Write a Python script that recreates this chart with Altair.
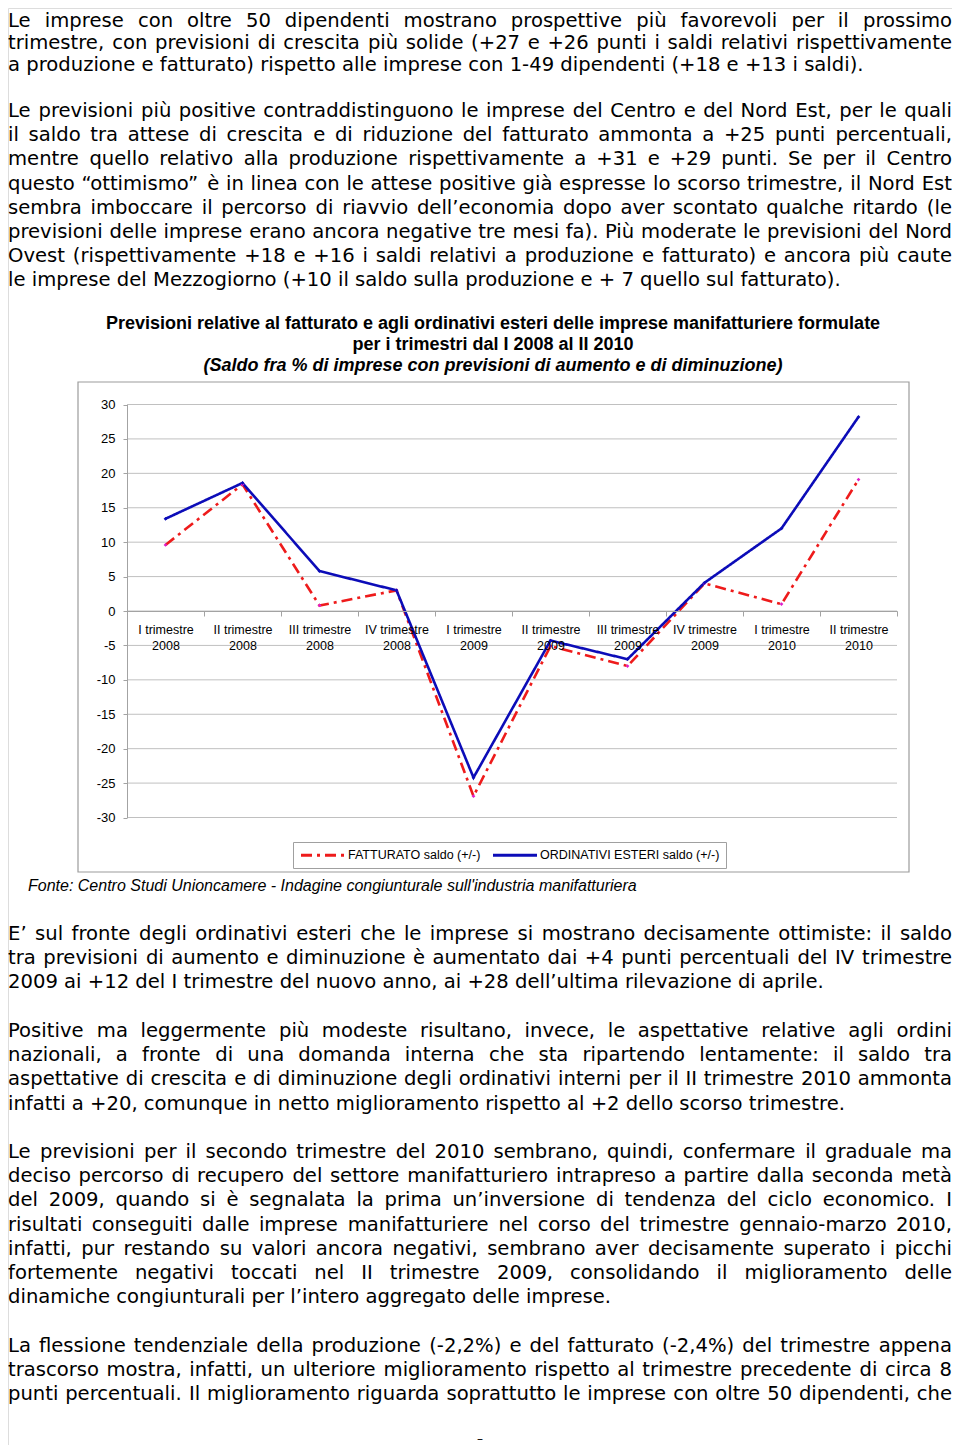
import altair as alt
import pandas as pd

# ---------------- chart data ----------------
periods = ["I trimestre 2008", "II trimestre 2008", "III trimestre 2008", "IV trimestre 2008",
           "I trimestre 2009", "II trimestre 2009", "III trimestre 2009", "IV trimestre 2009",
           "I trimestre 2010", "II trimestre 2010"]
fatturato = [9.6, 18.4, 0.8, 3.0, -26.9, -5.1, -8.0, 4.0, 1.0, 19.1]
ordinativi = [13.4, 18.6, 5.8, 3.0, -24.2, -4.3, -7.0, 4.1, 12.0, 28.2]
series = ["FATTURATO saldo (+/-)", "ORDINATIVI ESTERI saldo (+/-)"]
series_colors = ["#ee1b1b", "#0c0cb8"]
marker_colors = ["#e01ec8", "#0c0cb8"]
series_dash = [[11, 5, 3, 5], [1, 0]]
y_ticks = [-30, -25, -20, -15, -10, -5, 0, 5, 10, 15, 20, 25, 30]

title_lines = [
    "Previsioni relative al fatturato e agli ordinativi esteri delle imprese manifatturiere formulate",
    "per i trimestri dal I 2008 al II 2010",
]
subtitle_line = "(Saldo fra % di imprese con previsioni di aumento e di diminuzione)"
source_note = "Fonte: Centro Studi Unioncamere - Indagine congiunturale sull'industria manifatturiera"
page_mark = "–"

paragraphs = [
    ["Le imprese con oltre 50 dipendenti mostrano prospettive più favorevoli per il prossimo",
     "trimestre, con previsioni di crescita più solide (+27 e +26 punti i saldi relativi rispettivamente",
     "a produzione e fatturato) rispetto alle imprese con 1-49 dipendenti (+18 e +13 i saldi)."],
    ["Le previsioni più positive contraddistinguono le imprese del Centro e del Nord Est, per le quali",
     "il saldo tra attese di crescita e di riduzione del fatturato ammonta a +25 punti percentuali,",
     "mentre quello relativo alla produzione rispettivamente a +31 e +29 punti. Se per il Centro",
     "questo “ottimismo” è in linea con le attese positive già espresse lo scorso trimestre, il Nord Est",
     "sembra imboccare il percorso di riavvio dell’economia dopo aver scontato qualche ritardo (le",
     "previsioni delle imprese erano ancora negative tre mesi fa). Più moderate le previsioni del Nord",
     "Ovest (rispettivamente +18 e +16 i saldi relativi a produzione e fatturato) e ancora più caute",
     "le imprese del Mezzogiorno (+10 il saldo sulla produzione e + 7 quello sul fatturato)."],
    ["E’ sul fronte degli ordinativi esteri che le imprese si mostrano decisamente ottimiste: il saldo",
     "tra previsioni di aumento e diminuzione è aumentato dai +4 punti percentuali del IV trimestre",
     "2009 ai +12 del I trimestre del nuovo anno, ai +28 dell’ultima rilevazione di aprile."],
    ["Positive ma leggermente più modeste risultano, invece, le aspettative relative agli ordini",
     "nazionali, a fronte di una domanda interna che sta ripartendo lentamente: il saldo tra",
     "aspettative di crescita e di diminuzione degli ordinativi interni per il II trimestre 2010 ammonta",
     "infatti a +20, comunque in netto miglioramento rispetto al +2 dello scorso trimestre."],
    ["Le previsioni per il secondo trimestre del 2010 sembrano, quindi, confermare il graduale ma",
     "deciso percorso di recupero del settore manifatturiero intrapreso a partire dalla seconda metà",
     "del 2009, quando si è segnalata la prima un’inversione di tendenza del ciclo economico. I",
     "risultati conseguiti dalle imprese manifatturiere nel corso del trimestre gennaio-marzo 2010,",
     "infatti, pur restando su valori ancora negativi, sembrano aver decisamente superato i picchi",
     "fortemente negativi toccati nel II trimestre 2009, consolidando il miglioramento delle",
     "dinamiche congiunturali per l’intero aggregato delle imprese."],
    ["La flessione tendenziale della produzione (-2,2%) e del fatturato (-2,4%) del trimestre appena",
     "trascorso mostra, infatti, un ulteriore miglioramento rispetto al trimestre precedente di circa 8",
     "punti percentuali. Il miglioramento riguarda soprattutto le imprese con oltre 50 dipendenti, che"],
]
justify_last = [False, False, False, False, False, True]

# ---------------- layout (page pixels -> chart pixels) ----------------
W_CH, H_CH = 944, 1437          # whole page = 960 x 1453 with the 8px body margin
XS, YS = -8, -8
para_top = [13, 110, 933, 1030, 1151, 1345]   # centre of first line of each paragraph (page)
first_para_nudge = [7, 5, 3]                  # keep the first lines fully inside the view
LINE_H = 24.2
BASE_OFF = 7
FS = 19.6
LINE_W = W_CH
BODY_FONT = "DejaVu Sans"
CHART_FONT = "Liberation Sans"
NARROW_FONT = "'Liberation Sans Narrow', 'Arial Narrow', 'Liberation Sans'"

plot_x = [127 + XS, 897 + XS]
plot_y = [817.5 + YS, 404.5 + YS]
y_zero = (plot_y[0] + plot_y[1]) / 2

# DejaVu Sans advance widths (units per em 2048), used to justify lines
CW = {' ': 651, '(': 799, ')': 799, '+': 1716, ',': 651, '-': 739, '.': 651, '/': 690, ':': 690,
      '%': 1946, "'": 563, '’': 651, '‘': 651, '“': 1067, '”': 1067}
for d in "0123456789":
    CW[d] = 1303
CW.update(dict(zip("ABCDEFGHIJKLMNOPQRSTUVWXYZ",
                   [1401, 1405, 1430, 1577, 1294, 1178, 1587, 1540, 604, 604, 1343, 1141, 1767, 1532,
                    1612, 1235, 1612, 1423, 1300, 1251, 1499, 1401, 2025, 1403, 1251, 1403])))
CW.update(dict(zip("abcdefghijklmnopqrstuvwxyz",
                   [1255, 1300, 1126, 1300, 1260, 721, 1300, 1298, 569, 569, 1186, 569, 1995, 1298,
                    1253, 1300, 1300, 842, 1067, 803, 1298, 1212, 1675, 1212, 1212, 1075])))
CW.update({'à': 1255, 'è': 1260, 'é': 1260, 'ì': 569, 'ò': 1253, 'ù': 1298})


def tw(s):
    return sum(CW.get(c, 1200) for c in s) * FS / 2048


left_rows, right_rows = [], []
for pi, lines in enumerate(paragraphs):
    for li, line in enumerate(lines):
        nudge = first_para_nudge[li] if pi == 0 else 0
        yb = para_top[pi] + nudge + li * LINE_H + BASE_OFF + YS
        if li == len(lines) - 1 and not justify_last[pi]:
            left_rows.append({"x": 0, "y": yb, "t": line})
            continue
        ws = line.split(" ")
        wid = [tw(w) for w in ws]
        gap = (LINE_W - sum(wid)) / (len(ws) - 1)
        x = 0.0
        for k, (w, ww) in enumerate(zip(ws, wid)):
            if k == len(ws) - 1:
                right_rows.append({"x": LINE_W, "y": yb, "t": w})
            else:
                left_rows.append({"x": x, "y": yb, "t": w})
            x += ww + gap

body_left = pd.DataFrame(left_rows)
body_right = pd.DataFrame(right_rows)

rows = []
for name, mc, vals in zip(series, marker_colors, [fatturato, ordinativi]):
    for p, v in zip(periods, vals):
        rows.append({"serie": name, "periodo": p, "saldo": v, "mc": mc})
df = pd.DataFrame(rows)

# ---------------- encodings ----------------
y_scale = alt.Scale(domain=[-30, 30], range=plot_y, nice=False, zero=False)
y_axis = alt.Axis(values=y_ticks, offset=-plot_x[0], title=None, grid=False, zindex=1,
                  domainColor="#a3a3a3", tickColor="#a3a3a3", tickSize=4, labelExpr="'' + datum.value",
                  labelFont=CHART_FONT, labelFontSize=13, labelColor="#000000", labelPadding=8)
x_enc = alt.X("periodo:N", sort=periods,
              scale=alt.Scale(type="band", range=plot_x, paddingInner=0, paddingOuter=0),
              axis=alt.Axis(title=None, offset=-(H_CH - y_zero), tickBand="extent", grid=False, zindex=1,
                            domainColor="#a3a3a3", tickColor="#a3a3a3", tickSize=5, labelAngle=0,
                            labelExpr="[slice(datum.label, 0, length(datum.label) - 5), slice(datum.label, length(datum.label) - 4)]",
                            labelFont=CHART_FONT, labelFontSize=12.5, labelColor="#000000",
                            labelLineHeight=16, labelPadding=7, labelOverlap=False, labelBound=False))
y_enc = alt.Y("saldo:Q", scale=y_scale, axis=y_axis)

legend = alt.Legend(title=None, orient="none", legendX=293 + XS, legendY=842 + YS, direction="horizontal",
                    strokeColor="#a0a0a0", fillColor="#ffffff", padding=6, symbolType="M-4,0H4",
                    symbolSize=121, symbolStrokeWidth=3, symbolOffset=17, labelOffset=18,
                    labelFont=CHART_FONT, labelFontSize=12.5,
                    labelColor="#000000", columnPadding=6, labelLimit=400)

frame = alt.Chart(pd.DataFrame({"k": [0]})).mark_rect(fillOpacity=0, stroke="#9c9c9c", strokeWidth=1.2).encode(
    x=alt.value(78 + XS), x2=alt.value(909 + XS), y=alt.value(382 + YS), y2=alt.value(872 + YS))

grid = alt.Chart(pd.DataFrame({"saldo": y_ticks})).mark_rule(color="#c0c0c0", strokeWidth=1).encode(
    y=y_enc, x=alt.value(plot_x[0]), x2=alt.value(plot_x[1]))

lines = alt.Chart(df).mark_line(strokeWidth=2.6).encode(
    x=x_enc, y=y_enc,
    color=alt.Color("serie:N", scale=alt.Scale(domain=series, range=series_colors), legend=legend),
    strokeDash=alt.StrokeDash("serie:N", scale=alt.Scale(domain=series, range=series_dash), legend=legend),
    detail="serie:N")

points = alt.Chart(df).mark_point(filled=True, shape="diamond", size=14, opacity=1, strokeWidth=0).encode(
    x=x_enc, y=y_enc, fill=alt.Fill("mc:N", scale=None, legend=None))

xq = alt.X("x:Q", scale=None, axis=None)
yq = alt.Y("y:Q", scale=None, axis=None)

body_l = alt.Chart(body_left).mark_text(align="left", baseline="alphabetic", font=BODY_FONT,
                                        fontSize=FS, color="#000000").encode(x=xq, y=yq, text="t:N")
body_r = alt.Chart(body_right).mark_text(align="right", baseline="alphabetic", font=BODY_FONT,
                                         fontSize=FS, color="#000000").encode(x=xq, y=yq, text="t:N")

title_df = pd.DataFrame({"x": [493 + XS] * 2, "y": [324 + YS, 345 + YS], "t": title_lines})
title_t = alt.Chart(title_df).mark_text(align="center", baseline="middle", font=NARROW_FONT,
                                        fontWeight="bold", fontSize=18, color="#000000").encode(x=xq, y=yq, text="t:N")
sub_df = pd.DataFrame({"x": [493 + XS], "y": [366 + YS], "t": [subtitle_line]})
sub_t = alt.Chart(sub_df).mark_text(align="center", baseline="middle", font=NARROW_FONT, fontStyle="italic",
                                    fontWeight="bold", fontSize=18, color="#000000").encode(x=xq, y=yq, text="t:N")
src_df = pd.DataFrame({"x": [28 + XS], "y": [886 + YS], "t": [source_note]})
src_t = alt.Chart(src_df).mark_text(align="left", baseline="middle", font=NARROW_FONT, fontStyle="italic",
                                    fontSize=16, color="#000000").encode(x=xq, y=yq, text="t:N")
pm_df = pd.DataFrame({"x": [480 + XS], "y": [H_CH - 6], "t": [page_mark]})
pm_t = alt.Chart(pm_df).mark_text(align="center", baseline="middle", font=BODY_FONT,
                                  fontSize=12, color="#000000").encode(x=xq, y=yq, text="t:N")

chart = alt.layer(frame, grid, lines, points, body_l, body_r, title_t, sub_t, src_t, pm_t).properties(
    width=W_CH, height=H_CH, autosize=alt.AutoSizeParams(type="none"), padding=0
).configure_view(stroke=None).configure(background="#ffffff")

chart.save("out.html", embed_options={"renderer": "svg", "actions": False})
